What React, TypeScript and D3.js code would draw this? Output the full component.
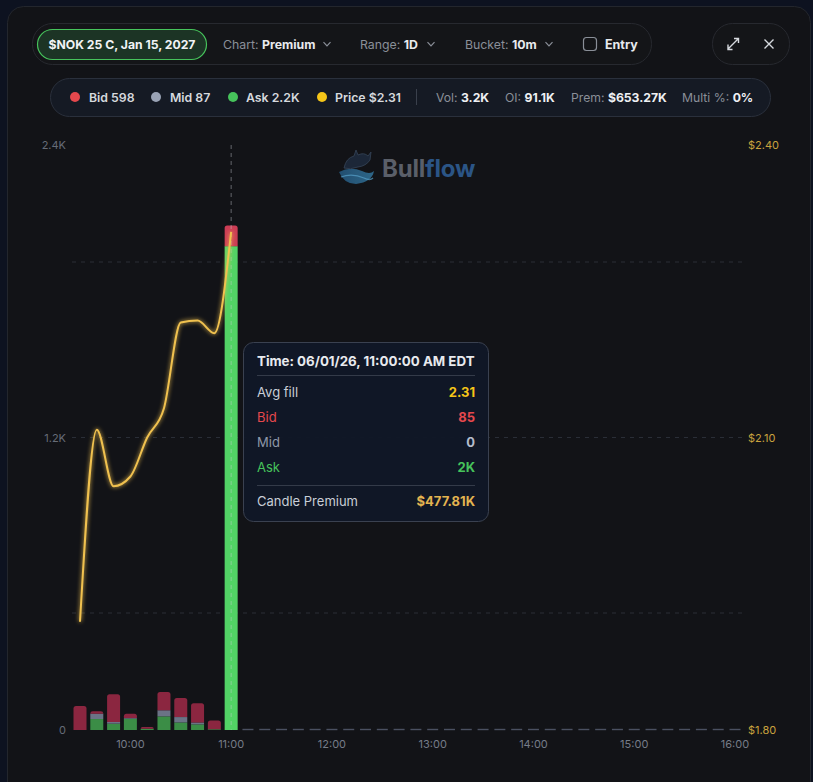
import React from "react";
import * as d3 from "d3";

const day = "2026-06-01";
const bucketTimes = ["09:30", "09:40", "09:50", "10:00", "10:10", "10:20", "10:30", "10:40", "10:50", "11:00"];
const bidValues = [98, 10, 114, 18, 7, 75, 78, 79, 36, 85];
const midValues = [0, 22, 7, 3, 0, 25, 22, 8, 0, 0];
const askValues = [0, 45, 26, 46, 5, 56, 31, 23, 3, 1985];
const priceValues = [1.911, 2.108, 2.05, 2.06, 2.1, 2.13, 2.218, 2.22, 2.207, 2.311];
const xTickLabels = ["10:00", "11:00", "12:00", "13:00", "14:00", "15:00", "16:00"];
const leftTicks = [0, 1200, 2400];
const gridValues = [480, 1200, 1920];
const rightTicks = [1.8, 2.1, 2.4];
const hoverIndex = 9;

const F = "Inter, 'Noto Sans', sans-serif";
const t = (hm: string) => new Date(`${day}T${hm}:00`);

function topRounded(x: number, y: number, w: number, h: number, r: number) {
  const rr = Math.min(r, h, w / 2);
  return `M${x},${y + h}V${y + rr}Q${x},${y} ${x + rr},${y}H${x + w - rr}Q${x + w},${y} ${x + w},${y + rr}V${y + h}Z`;
}

export default function App() {
  const W = 813, H = 782;
  const x = d3.scaleTime().domain([t("09:30"), t("16:00")]).range([80, 735]);
  const yL = d3.scaleLinear().domain([0, 2400]).range([730, 145]);
  const yR = d3.scaleLinear().domain([1.8, 2.4]).range([730, 145]);
  const bw = 13;

  const rows = bucketTimes.map((b, i) => ({ time: t(b), ask: askValues[i], mid: midValues[i], bid: bidValues[i] }));
  const keys = ["ask", "mid", "bid"];
  const stack = d3.stack<any>().keys(keys)(rows);
  const normal: any = { ask: "#3b8d46", mid: "#6b7386", bid: "#8b2640" };
  const hot: any = { ask: "#52d365", mid: "#9aa3b5", bid: "#cc3d55" };

  const emptyBuckets = d3.timeMinute.every(10)!.range(t("11:10"), new Date(t("16:00").getTime() + 1));

  const line = d3
    .line<number>()
    .x((_, i) => x(t(bucketTimes[i])))
    .y((d) => yR(d))
    .curve(d3.curveMonotoneX);

  const bars: any[] = [];
  rows.forEach((r, i) => {
    const cx = x(r.time);
    const topKey = [...keys].reverse().find((k) => (r as any)[k] > 0);
    keys.forEach((k, ki) => {
      const seg = stack[ki][i];
      const y0 = yL(seg[0]), y1 = yL(seg[1]);
      const h = y0 - y1;
      if (h <= 0) return;
      const fill = i === hoverIndex ? hot[k] : normal[k];
      if (k === topKey) {
        bars.push(<path key={`${i}-${k}`} d={topRounded(cx - bw / 2, y1, bw, h, 2.5)} fill={fill} />);
      } else {
        bars.push(<rect key={`${i}-${k}`} x={cx - bw / 2} y={y1} width={bw} height={h} fill={fill} />);
      }
    });
  });

  const hx = x(rows[hoverIndex].time);

  const chevron = (cx: number, cy: number) => (
    <path d={`M${cx - 3.5},${cy - 1.8}L${cx},${cy + 1.8}L${cx + 3.5},${cy - 1.8}`} fill="none" stroke="#8a8f98" strokeWidth={1.2} />
  );

  return (
    <div style={{ position: "absolute", left: 0, top: 0 }}>
      <svg width={W} height={H} style={{ display: "block", fontFamily: F }}>
        <defs>
          <filter id="glow" x="-20%" y="-20%" width="140%" height="140%">
            <feGaussianBlur stdDeviation="2" result="b" />
            <feMerge>
              <feMergeNode in="b" />
              <feMergeNode in="SourceGraphic" />
            </feMerge>
          </filter>
          <linearGradient id="wave" x1="0" y1="0" x2="1" y2="0">
            <stop offset="0" stopColor="#2a6a9a" />
            <stop offset="1" stopColor="#3b8fc0" />
          </linearGradient>
        </defs>
        <rect width={W} height={H} fill="#0d1220" />
        <rect x={7.5} y={6.5} width={803} height={820} rx={16} fill="#121317" stroke="#23262d" />

        {/* toolbar */}
        <rect x={32.5} y={23.5} width={619} height={41} rx={20} fill="#141518" stroke="#27292f" />
        <rect x={37.5} y={29.5} width={169} height={30} rx={15} fill="#1c3425" stroke="#46c35b" strokeWidth={1.2} />
        <text x={122} y={48.5} textAnchor="middle" fill="#f1f3f5" fontSize={12.2} fontWeight={700}>$NOK 25 C, Jan 15, 2027</text>
        <text x={223} y={48.5} fontSize={12.3} fill="#8a8f98">Chart: <tspan fill="#e8eaee" fontWeight={700}>Premium</tspan></text>
        {chevron(327, 44)}
        <text x={360} y={48.5} fontSize={12.3} fill="#8a8f98">Range: <tspan fill="#e8eaee" fontWeight={700}>1D</tspan></text>
        {chevron(431, 44)}
        <text x={465} y={48.5} fontSize={12.3} fill="#8a8f98">Bucket: <tspan fill="#e8eaee" fontWeight={700}>10m</tspan></text>
        {chevron(549, 44)}
        <rect x={583.5} y={37.5} width={13} height={13} rx={3} fill="none" stroke="#8a8f98" strokeWidth={1.2} />
        <text x={605} y={48.5} fontSize={12.5} fill="#e8eaee" fontWeight={700}>Entry</text>

        <rect x={712.5} y={23.5} width={77} height={41} rx={20} fill="#141518" stroke="#27292f" />
        <g stroke="#d6d9de" strokeWidth={1.4} fill="none">
          <path d="M728,49L738,39M734,38.5H738.5V43M728,44.5V49.5H732.5" />
          <path d="M764.5,39.5L773.5,48.5M773.5,39.5L764.5,48.5" />
        </g>

        {/* legend */}
        <rect x={50.5} y={78.5} width={720} height={38} rx={19} fill="#151a24" stroke="#2a303c" />
        {[
          { cx: 75, c: "#e5484d", tx: 89, label: "Bid 598" },
          { cx: 156, c: "#9aa3b5", tx: 170, label: "Mid 87" },
          { cx: 233, c: "#46c35b", tx: 246, label: "Ask 2.2K" },
          { cx: 322, c: "#f5c518", tx: 335, label: "Price $2.31" },
        ].map((d) => (
          <g key={d.label}>
            <circle cx={d.cx} cy={97} r={5} fill={d.c} />
            <text x={d.tx} y={101.5} fontSize={12.3} fontWeight={600} fill="#d6d9de">{d.label}</text>
          </g>
        ))}
        <line x1={416.5} x2={416.5} y1={89} y2={105} stroke="#3a404c" />
        {[
          { x: 436, k: "Vol:", v: "3.2K" },
          { x: 505, k: "OI:", v: "91.1K" },
          { x: 571, k: "Prem:", v: "$653.27K" },
          { x: 682, k: "Multi %:", v: "0%" },
        ].map((d) => (
          <text key={d.k} x={d.x} y={101.5} fontSize={12.2} fill="#8a8f98">
            {d.k} <tspan fill="#eef0f3" fontWeight={700}>{d.v}</tspan>
          </text>
        ))}

        {/* logo */}
        <g opacity={0.9}>
          <path d="M339,172Q350,166 362,171Q370,175 374,171Q372,182 356,184Q344,184 339,172Z" fill="url(#wave)" opacity={0.75} />
          <path d="M341,177Q352,173 364,178Q370,181 373,178" fill="none" stroke="#5fb0dd" strokeWidth={1.3} opacity={0.7} />
          <path d="M344,168Q346,158 354,156L356,150L358,155Q364,152 368,156L371,152L370,160Q366,166 358,167Q350,170 344,168Z" fill="#1e2a3c" stroke="#3a4a60" strokeWidth={0.8} />
        </g>
        <text x={382} y={177} fontSize={24} fontWeight={700} fill="#5a5f69" letterSpacing={-0.2}>
          Bull<tspan fill="#2b5586">flow</tspan>
        </text>

        {/* grid */}
        {gridValues.map((g) => (
          <line key={g} x1={72} x2={742} y1={yL(g)} y2={yL(g)} stroke="#2a2e37" strokeDasharray="4 5" />
        ))}

        {/* axes labels */}
        {leftTicks.map((v) => (
          <text key={v} x={66} y={yL(v) + 4} textAnchor="end" fontSize={11} fill="#666c77">
            {v === 0 ? "0" : `${d3.format(".1f")(v / 1000)}K`}
          </text>
        ))}
        {rightTicks.map((v) => (
          <text key={v} x={748} y={yR(v) + 4} fontSize={11} fill="#c9a23e">
            {`$${v.toFixed(2)}`}
          </text>
        ))}
        {xTickLabels.map((l) => (
          <text key={l} x={x(t(l))} y={748} textAnchor="middle" fontSize={11} fill="#767c88">{l}</text>
        ))}

        {/* empty buckets */}
        {emptyBuckets.map((d, i) => (
          <rect key={i} x={x(d) - 5.5} y={728.8} width={11} height={1.4} fill="#4a5061" />
        ))}

        {/* bars */}
        {bars}

        {/* crosshair */}
        <line x1={hx} x2={hx} y1={145} y2={730} stroke="#c8ccd4" strokeOpacity={0.45} strokeDasharray="4 4" />

        {/* price line */}
        <path d={line(priceValues) || ""} fill="none" stroke="#f0c14f" strokeWidth={2} filter="url(#glow)" />

        {/* tooltip */}
        <rect x={243.5} y={342.5} width={245} height={179} rx={10} fill="#111827" fillOpacity={0.97} stroke="#3a4150" />
        <text x={257} y={366} fontSize={13.3} fontWeight={700} fill="#e8eaee">Time: 06/01/26, 11:00:00 AM EDT</text>
        <line x1={257} x2={475} y1={375.5} y2={375.5} stroke="#343b49" />
        {[
          { y: 397, l: "Avg fill", lc: "#c9ced6", v: "2.31", vc: "#f5c518" },
          { y: 422, l: "Bid", lc: "#e5484d", v: "85", vc: "#e5484d" },
          { y: 447, l: "Mid", lc: "#8e97a8", v: "0", vc: "#b4bccb" },
          { y: 472, l: "Ask", lc: "#46c35b", v: "2K", vc: "#46c35b" },
        ].map((r) => (
          <g key={r.l}>
            <text x={257} y={r.y} fontSize={13} fill={r.lc}>{r.l}</text>
            <text x={475} y={r.y} fontSize={13} fontWeight={700} fill={r.vc} textAnchor="end">{r.v}</text>
          </g>
        ))}
        <line x1={257} x2={475} y1={485.5} y2={485.5} stroke="#343b49" />
        <text x={257} y={506} fontSize={13} fill="#c9ced6">Candle Premium</text>
        <text x={475} y={506} fontSize={13} fontWeight={700} fill="#e3b450" textAnchor="end">$477.81K</text>
      </svg>
    </div>
  );
}
